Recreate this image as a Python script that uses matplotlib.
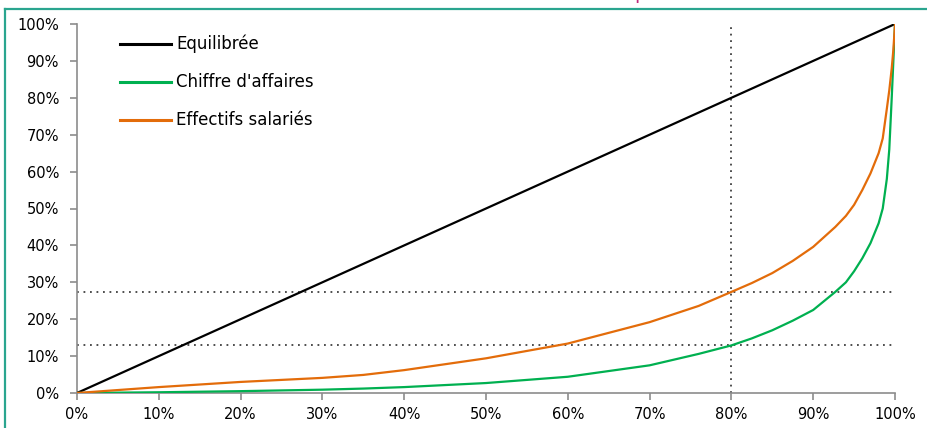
import numpy as np
import matplotlib.pyplot as plt
from matplotlib.lines import Line2D

# share of companies (cumulative, %)
x_pct = [0, 10, 20, 30, 35, 40, 50, 60, 70, 76, 80, 82.5, 85, 87.5, 90, 92.7, 94, 95, 96, 97, 98, 98.5, 99, 99.3, 99.6, 99.8, 100]
# cumulative turnover
ca = [0, 0.2, 0.5, 0.9, 1.2, 1.6, 2.7, 4.4, 7.5, 10.6, 12.9, 14.8, 17, 19.6, 22.5, 27.4, 30, 33, 36.5, 40.6, 46, 50, 58, 66, 80, 90, 100]
# cumulative salaried workforce
eff = [0, 1.6, 3.0, 4.1, 4.9, 6.2, 9.4, 13.4, 19.2, 23.6, 27.4, 29.8, 32.5, 35.8, 39.6, 45, 48, 51, 55, 59.5, 65, 69, 77, 82, 88, 93, 100]
equi = [0, 100]
equi_x = [0, 100]

ref_x = 80
ref_levels = [27.4, 12.9]

labels = ["Equilibrée", "Chiffre d'affaires", "Effectifs salariés"]
colors = ["#000000", "#00b050", "#e36c0a"]

fig = plt.figure(figsize=(9.27, 4.28), dpi=100)
ax = fig.add_axes([77/927, 35/428, 818/927, 369/428])

ax.plot(equi_x, equi, color=colors[0], lw=1.6, label=labels[0], zorder=3)
ax.plot(x_pct, ca, color=colors[1], lw=1.6, label=labels[1], zorder=3)
ax.plot(x_pct, eff, color=colors[2], lw=1.6, label=labels[2], zorder=3)

dot = dict(color="#404040", lw=1.3, ls=(0, (1, 2.6)), zorder=2)
for lv in ref_levels:
    ax.plot([0, 100], [lv, lv], **dot)
ax.plot([ref_x, ref_x], [0, 100], **dot)

ax.set_xlim(0, 100)
ax.set_ylim(0, 100)
ax.set_xticks(np.arange(0, 101, 10))
ax.set_yticks(np.arange(0, 101, 10))
ax.set_xticklabels([f"{v}%" for v in range(0, 101, 10)])
ax.set_yticklabels([f"{v}%" for v in range(0, 101, 10)])
for s in ["top", "right"]:
    ax.spines[s].set_visible(False)
for s in ["left", "bottom"]:
    ax.spines[s].set_color("#8c8c8c")
    ax.spines[s].set_linewidth(1.2)
ax.tick_params(direction="out", length=5, width=1.2, color="#8c8c8c",
               labelcolor="#000000")
ax.tick_params(axis="y", pad=8)
ax.tick_params(axis="x", pad=5)
for lab in ax.get_xticklabels() + ax.get_yticklabels():
    lab.set_family("Liberation Sans Narrow")
    lab.set_fontsize(10.5)
ax.margins(0)

handles = [Line2D([0], [0], color=c, lw=2.2) for c in colors]
ax.legend(handles, labels, loc="upper left", bbox_to_anchor=(0.034, 1.011),
          frameon=False, handlelength=3.05, handletextpad=0.35,
          labelspacing=1.2, prop={"family": "DejaVu Sans", "size": 12})

# frame of the surrounding page
teal = "#2aa58f"
fig.add_artist(Line2D([5/927, 1], [1 - 9/428, 1 - 9/428], color=teal, lw=1.6))
fig.add_artist(Line2D([5/927, 5/927], [0, 1 - 9/428], color=teal, lw=1.6))
# cut-off title descender above the frame
fig.text(634/927, 1 + 1/428, "p", color="#c0287a", fontsize=14, va="baseline")

fig.savefig("out.png", dpi=100)
